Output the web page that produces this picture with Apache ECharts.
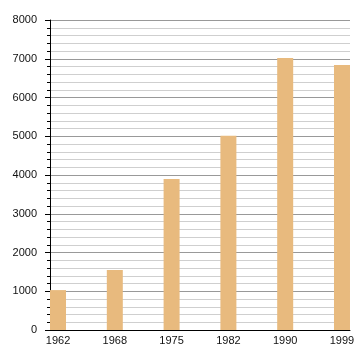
<!DOCTYPE html>
<html><head><meta charset="utf-8">
<script src="https://cdn.jsdelivr.net/npm/echarts@6/dist/echarts.min.js"></script>
<style>html,body{margin:0;padding:0;background:#fff}#c{width:360px;height:360px}</style>
</head><body><div id="c"></div>
<script>
const years = ['1962','1968','1975','1982','1990','1999'];
const population = [1030, 1550, 3900, 5010, 7020, 6840];
const yTicks = [0,1000,2000,3000,4000,5000,6000,7000,8000];

const chart = echarts.init(document.getElementById('c'), null, {renderer:'canvas'});
chart.setOption({
  animation:false,
  grid:{left:50,right:10,top:20,bottom:30,containLabel:false},
  xAxis:{
    type:'value', min:-0.141, max:5.141,
    axisLine:{show:true,onZero:false,lineStyle:{color:'#000',width:1}},
    axisTick:{show:false},
    splitLine:{show:false},
    axisLabel:{customValues:[0,1,2,3,4,5],formatter:v=>years[Math.round(v)],color:'#111',fontFamily:'Liberation Sans',fontSize:11,margin:5}
  },
  yAxis:{
    type:'value', min:yTicks[0], max:yTicks[yTicks.length-1], interval:1000,
    axisLine:{show:true,onZero:false,lineStyle:{color:'#000',width:1}},
    axisTick:{show:true,length:5,lineStyle:{color:'#000'}},
    minorTick:{show:true,splitNumber:5,length:3,lineStyle:{color:'#000'}},
    splitLine:{show:true,lineStyle:{color:'#999',width:1}},
    minorSplitLine:{show:true,lineStyle:{color:'#cfcfcf',width:1}},
    axisLabel:{formatter:v=>String(v),color:'#111',fontFamily:'Liberation Sans',fontSize:11,margin:13}
  },
  series:[{
    type:'bar',
    data: population.map((v,i)=>[i,v]),
    barWidth:16,
    itemStyle:{color:'#e8ba7e'}
  }]
});
</script></body></html>
